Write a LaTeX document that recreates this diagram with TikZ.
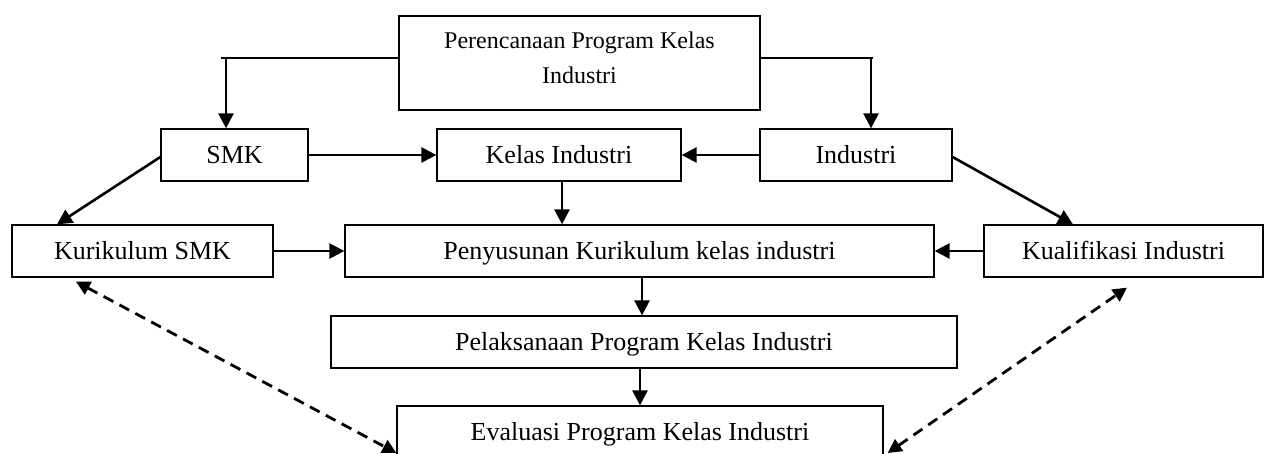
\documentclass[tikz,border=0pt]{standalone}
\usepackage{fontspec}
\setmainfont{Liberation Serif}
\usetikzlibrary{arrows.meta,calc}
\begin{document}
\begin{tikzpicture}[x=1pt,y=-1pt,
  boxbase/.style={draw, line width=1.3pt, rectangle, inner sep=0pt},
  box/.style={boxbase, minimum height=52pt, text height=17pt, text depth=0pt, font=\fontsize{26}{35}\selectfont},
  arr/.style={line width=2.6pt, -{Triangle[length=15pt,width=15pt]}},
  conn/.style={line width=2.6pt},
  dasharr/.style={line width=2.8pt, dash pattern=on 11pt off 7pt, {Triangle[length=14pt,width=14pt]}-{Triangle[length=14pt,width=14pt]}}
]
\useasboundingbox (0,0) rectangle (1268,454);

\node[boxbase, minimum width=361pt, minimum height=94pt, align=center, font=\fontsize{24}{35}\selectfont, text depth=10pt] (plan) at (579.5,63) {Perencanaan Program Kelas\\Industri};
\node[box, minimum width=147pt] (smk) at (234.5,155) {SMK};
\node[box, minimum width=244pt] (kelas) at (559,155) {Kelas Industri};
\node[box, minimum width=192pt] (ind) at (856,155) {Industri};
\node[box, minimum width=261pt] (kur) at (142.5,251) {Kurikulum SMK};
\node[box, minimum width=589pt] (pen) at (639.5,251) {Penyusunan Kurikulum kelas industri};
\node[box, minimum width=279pt] (kua) at (1123.5,251) {Kualifikasi Industri};
\node[box, minimum width=626pt] (pel) at (644,342) {Pelaksanaan Program Kelas Industri};
\node[box, minimum width=486pt] (eva) at (640,432) {Evaluasi Program Kelas Industri};

\coordinate (lc) at (221,58);
\coordinate (ld) at (226,58);
\coordinate (rc) at (873,58);
\coordinate (rd) at (871,58);

\draw[conn] (plan.west |- lc) -- (lc);
\draw[arr] (ld) -- (ld |- smk.north);
\draw[conn] (plan.east |- rc) -- (rc);
\draw[arr] (rd) -- (rd |- ind.north);

\draw[arr] (smk.east) -- (kelas.west);
\draw[arr] (ind.west) -- (kelas.east);
\draw[arr] ([xshift=3pt]kelas.south) -- ([xshift=3pt]kelas.south |- pen.north);
\draw[arr] ([yshift=-2pt]smk.west) -- ([xshift=-85.5pt]kur.north);
\draw[arr] ([yshift=-2pt]ind.east) -- ([xshift=-50.5pt]kua.north);
\draw[arr] (kur.east) -- (pen.west);
\draw[arr] (kua.west) -- (pen.east);
\draw[arr] ([xshift=2.5pt]pen.south) -- ([xshift=2.5pt]pen.south |- pel.north);
\draw[arr] (pel.south -| eva.north) -- (eva.north);

\coordinate (d1) at ([xshift=-66.5pt,yshift=-4pt]kur.south);
\coordinate (d2) at ([yshift=-21pt]eva.west);
\coordinate (d3) at ([xshift=4pt,yshift=-21pt]eva.east);
\coordinate (d4) at ([xshift=3.5pt,yshift=-10pt]kua.south);
\draw[dasharr] (d1) -- (d2);
\draw[dasharr] (d3) -- (d4);
\end{tikzpicture}
\end{document}
